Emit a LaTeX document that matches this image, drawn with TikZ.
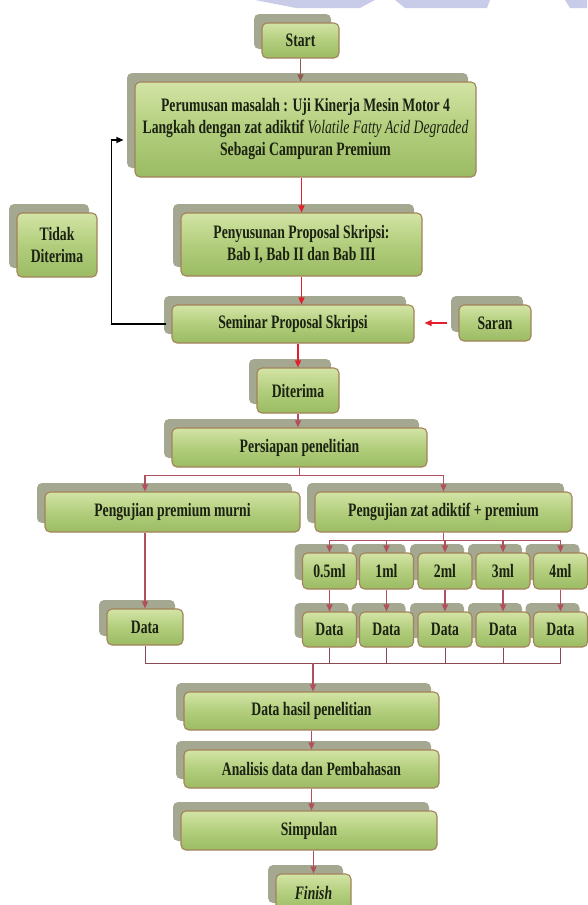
\documentclass[tikz,border=0pt]{standalone}
\usepackage{fontspec}
\newfontfamily\flowfont{Liberation Serif}[FakeStretch=0.72]
\usetikzlibrary{arrows.meta,shadows}
\definecolor{gtop}{HTML}{D3E4A5}
\definecolor{gmid}{HTML}{B2CE7D}
\definecolor{gbot}{HTML}{9BBB63}
\definecolor{boxline}{HTML}{A3825A}
\definecolor{shadec}{HTML}{A5A891}
\definecolor{ink}{HTML}{1C2212}
\definecolor{arrred}{HTML}{E2202C}
\definecolor{arrmauve}{HTML}{B0505C}
\definecolor{arrbrown}{HTML}{8E5A50}
\definecolor{joinc}{HTML}{8A4A55}
\definecolor{wmark}{HTML}{C9CCE8}
\begin{document}
\begin{tikzpicture}[x=1pt, y=-1pt,
		box/.style={draw=boxline, line width=1.1pt, rounded corners=5pt,
			top color=gtop, bottom color=gbot, middle color=gmid,
			general shadow={fill=shadec, shadow xshift=-8pt, shadow yshift=9pt},
			font=\flowfont\fontsize{19}{22}\selectfont\bfseries,
			text=ink, align=center, inner sep=0pt},
		redarrow/.style={draw=arrred, line width=1.4pt, -{Triangle[length=7pt,width=6pt]}},
		brownarrow/.style={draw=arrbrown, line width=1.3pt, -{Triangle[length=7pt,width=6pt]}},
		mauvearrow/.style={draw=arrmauve, line width=1.2pt, -{Triangle[length=7pt,width=6pt]}},
		joinline/.style={draw=joinc, line width=1pt},
		fbline/.style={draw=black, line width=1.3pt, -{Triangle[length=7pt,width=6pt]}}
		]
	\useasboundingbox (0,0) rectangle (587,905);
	\fill[white] (0,0) rectangle (587,905);
	\fill[wmark] (255,0) -- (375,0) -- (360,8) -- (296,8) -- cycle;
	\fill[wmark] (395,0) -- (490,0) -- (487,8) -- (405,8) -- cycle;
	\fill[wmark] (565,0) -- (587,0) -- (587,8) -- (570,8) -- cycle;

	\node [box, minimum width=77pt, minimum height=35pt] (start) at (300.5,40.5) {Start};
	\node [box, minimum width=341pt, minimum height=95pt] (masalah) at (305.5,129.5)
		{Perumusan masalah : Uji Kinerja Mesin Motor 4\\
		 Langkah dengan zat adiktif \textit{\mdseries Volatile Fatty Acid Degraded}\\
		 Sebagai Campuran Premium};
	\node [box, minimum width=80pt, minimum height=64pt] (tidak) at (57,245) {Tidak\\Diterima};
	\node [box, minimum width=241pt, minimum height=63pt] (proposal) at (301.5,244.5)
		{Penyusunan Proposal Skripsi:\\Bab I, Bab II dan Bab III};
	\node [box, minimum width=242pt, minimum height=38pt] (seminar) at (293,324) {Seminar Proposal Skripsi};
	\node [box, minimum width=72pt, minimum height=36pt] (saran) at (495,323) {Saran};
	\node [box, minimum width=82pt, minimum height=45pt] (diterima) at (298,390.5) {Diterima};
	\node [box, minimum width=255pt, minimum height=39pt] (persiapan) at (299.5,447.5) {Persiapan penelitian};
	\node [box, minimum width=255pt, minimum height=40pt] (murni) at (172.5,512) {Pengujian premium murni};
	\node [box, minimum width=257pt, minimum height=40pt] (adiktif) at (443.5,512) {Pengujian zat adiktif + premium};
	\foreach \x/\dose/\i in {560.5/4ml/5, 503/3ml/4, 445/2ml/3, 386.5/1ml/2, 329.5/0.5ml/1} {
		\node [box, minimum width=54pt, minimum height=36pt] (ml\i) at (\x,571) {\dose};
		\node [box, minimum width=54pt, minimum height=35pt] (data\i) at (\x,629.5) {Data};
	}
	\node [box, minimum width=76pt, minimum height=36pt] (datamurni) at (145,627) {Data};
	\node [box, minimum width=255pt, minimum height=38pt] (hasil) at (311.5,711) {Data hasil penelitian};
	\node [box, minimum width=255pt, minimum height=38pt] (analisis) at (311.5,769) {Analisis data dan Pembahasan};
	\node [box, minimum width=256pt, minimum height=39pt] (simpulan) at (309,830.5) {Simpulan};
	\node [box, minimum width=75pt, minimum height=38pt] (finish) at (313.5,893) {\textit{Finish}};

	\draw[brownarrow] (start.south) -- (start.south |- masalah.north);
	\draw[redarrow] (masalah.south -| proposal) -- (proposal.north);
	\draw[redarrow] (proposal.south) -- (proposal.south |- seminar.north);
	\draw[redarrow] (seminar.south -| diterima) -- (diterima.north);
	\draw[redarrow, shorten <=11pt, shorten >=10pt] (saran.west) -- (seminar.east |- saran.west);
	\draw[fbline] ([xshift=-5pt]seminar.west) -- ++(-55,0) |- ([xshift=-11pt,yshift=-10.5pt]masalah.west);
	\draw[mauvearrow] (diterima.south) -- (diterima.south |- persiapan.north);
	\draw[mauvearrow] (persiapan.south) -- ++(0,8) -| (murni.north -| datamurni);
	\draw[mauvearrow] (persiapan.south) -- ++(0,8) -| (adiktif.north);
	\draw[mauvearrow] (murni.south -| datamurni) -- (datamurni.north);
	\foreach \i in {1,...,5} {
		\draw[mauvearrow] (adiktif.south) -- ++(0,8) -| (ml\i.north);
		\draw[mauvearrow] (ml\i.south) -- (data\i.north);
		\draw[joinline] (data\i.south) -- ++(0,16);
	}
	\draw[joinline] (datamurni.south) -- ++(0,18) -| (data5.south);
	\coordinate (merge) at (313,663);
	\draw[mauvearrow] (merge) -- (merge |- hasil.north);
	\draw[mauvearrow] (hasil.south) -- (analisis.north);
	\draw[mauvearrow] (analisis.south) -- (analisis.south |- simpulan.north);
	\draw[mauvearrow] (simpulan.south -| finish) -- (finish.north);
\end{tikzpicture}
\end{document}
